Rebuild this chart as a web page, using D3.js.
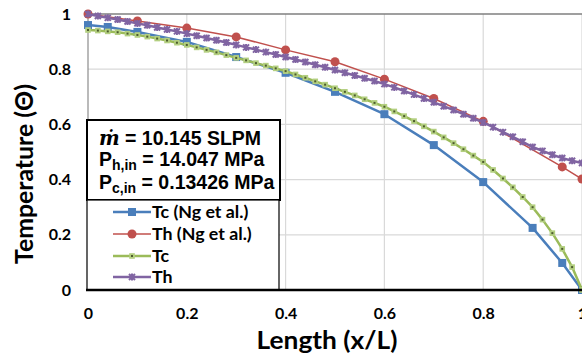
<!DOCTYPE html>
<html>
<head>
<meta charset="utf-8">
<script src="https://cdn.jsdelivr.net/npm/d3@7"></script>
<style>
  body { margin: 0; background: #fff; }
  svg { display: block; }
</style>
</head>
<body>
<svg></svg>
<script>
"use strict";

// Data
const ngTcX = [0, 0.04, 0.1, 0.2, 0.3, 0.4, 0.5, 0.6, 0.7, 0.8, 0.9, 0.96, 1.0];
const ngTcY = [0.96, 0.953, 0.935, 0.899, 0.844, 0.787, 0.718, 0.637, 0.525, 0.391, 0.225, 0.098, 0];

const ngThX = [0, 0.1, 0.2, 0.3, 0.4, 0.5, 0.6, 0.7, 0.8, 0.96, 1.0];
const ngThY = [1.0, 0.975, 0.949, 0.917, 0.870, 0.827, 0.764, 0.694, 0.611, 0.446, 0.402];

const modelX = d3.range(51).map(i => i / 50);
const modelTc = [
  0.942, 0.940, 0.937, 0.934, 0.929, 0.924, 0.918, 0.911, 0.904, 0.896,
  0.888, 0.879, 0.870, 0.861, 0.851, 0.841, 0.832, 0.822, 0.813, 0.803,
  0.793, 0.781, 0.769, 0.756, 0.744, 0.731, 0.718, 0.705, 0.691, 0.678,
  0.664, 0.647, 0.630, 0.612, 0.593, 0.574, 0.553, 0.532, 0.510, 0.487,
  0.464, 0.435, 0.404, 0.372, 0.337, 0.300, 0.255, 0.206, 0.149, 0.083,
  0.000
];
const modelTh = [
  1.000, 0.993, 0.986, 0.980, 0.973, 0.966, 0.959, 0.951, 0.944, 0.937,
  0.929, 0.921, 0.913, 0.905, 0.897, 0.888, 0.879, 0.871, 0.862, 0.853,
  0.844, 0.835, 0.826, 0.816, 0.807, 0.797, 0.787, 0.777, 0.767, 0.757,
  0.746, 0.734, 0.721, 0.708, 0.694, 0.680, 0.666, 0.652, 0.637, 0.622,
  0.607, 0.590, 0.572, 0.555, 0.537, 0.518, 0.504, 0.490, 0.478, 0.468,
  0.460
];

const xTicks = [0, 0.2, 0.4, 0.6, 0.8, 1];
const yTicks = [0, 0.2, 0.4, 0.6, 0.8, 1];
const legendLabels = ["Tc (Ng et al.)", "Th (Ng et al.)", "Tc", "Th"];

// Sizes
const W = 582, H = 356;
const margin = { l: 88, r: 0, t: 14, b: 66 };
const width = W - margin.l - margin.r;
const height = H - margin.t - margin.b;
const font = "Lato, 'Open Sans', sans-serif";

const svg = d3.select("svg")
  .attr("width", W)
  .attr("height", H);

const g = svg.append("g")
  .attr("transform", `translate(${margin.l}, ${margin.t})`);

// Scales
const x = d3.scaleLinear().domain([0, 1]).range([0, width]);
const y = d3.scaleLinear().domain([0, 1]).range([height, 0]);

// Grid
g.append("g")
  .selectAll("line")
  .data(xTicks.slice(1))
  .join("line")
    .attr("x1", d => x(d)).attr("x2", d => x(d))
    .attr("y1", 0).attr("y2", height)
    .attr("stroke", "#d9d9d9").attr("stroke-width", 1.2);

g.append("g")
  .selectAll("line")
  .data(yTicks.slice(1, -1))
  .join("line")
    .attr("x1", 0).attr("x2", width)
    .attr("y1", d => y(d)).attr("y2", d => y(d))
    .attr("stroke", "#d9d9d9").attr("stroke-width", 1.2);

// top frame line and left axis line
g.append("line")
  .attr("x1", 0).attr("x2", width)
  .attr("y1", y(1)).attr("y2", y(1))
  .attr("stroke", "#7f7f7f").attr("stroke-width", 1.5);
g.append("line")
  .attr("x1", 0).attr("x2", 0)
  .attr("y1", 0).attr("y2", height)
  .attr("stroke", "#8c8c8c").attr("stroke-width", 1.2);

// Axes
const fmt = d => d === 0 || d === 1 ? d3.format("d")(d) : d3.format(".1f")(d);

const xAxis = g.append("g")
  .attr("transform", `translate(0, ${height})`)
  .call(d3.axisBottom(x).tickValues(xTicks).tickSize(0).tickPadding(18).tickFormat(fmt));
xAxis.select(".domain").remove();

const yAxis = g.append("g")
  .call(d3.axisLeft(y).tickValues(yTicks).tickSize(0).tickPadding(17).tickFormat(fmt));
yAxis.select(".domain").remove();

svg.selectAll(".tick text")
  .attr("font-family", font)
  .attr("font-weight", "bold")
  .attr("font-size", 16)
  .attr("fill", "#000");

// Series
const series = [
  { xs: ngTcX, ys: ngTcY, color: "#4a7ebb", width: 2.5, marker: "square" },
  { xs: ngThX, ys: ngThY, color: "#c0504d", width: 1.5, marker: "circle" },
  { xs: modelX, ys: modelTc, color: "#9bbb59", width: 2.5, marker: "dot" },
  { xs: modelX, ys: modelTh, color: "#8064a2", width: 2.5, marker: "star" }
];

const line = d3.line()
  .x(d => x(d[0]))
  .y(d => y(d[1]));

function drawMarker(sel, type, color) {
  if (type === "square") {
    sel.append("rect")
      .attr("x", -4).attr("y", -4).attr("width", 8).attr("height", 8)
      .attr("fill", color);
  } else if (type === "circle") {
    sel.append("circle").attr("r", 4.5).attr("fill", color);
  } else if (type === "dot") {
    sel.append("rect")
      .attr("x", -2.8).attr("y", -2.8).attr("width", 5.6).attr("height", 5.6)
      .attr("fill", "#b3cf80");
    sel.append("rect")
      .attr("x", -1).attr("y", -1).attr("width", 2).attr("height", 2)
      .attr("fill", "#4b5a2c");
  } else if (type === "star") {
    sel.append("path")
      .attr("d", "M-3,-3L3,3M-3,3L3,-3M0,-3.5L0,3.5")
      .attr("stroke", color).attr("stroke-width", 2);
  }
}

series.forEach(s => {
  const pts = s.xs.map((v, i) => [v, s.ys[i]]);
  g.append("path")
    .attr("d", line(pts))
    .attr("fill", "none")
    .attr("stroke", s.color)
    .attr("stroke-width", s.width)
    .attr("stroke-linejoin", "round");
  g.append("g")
    .selectAll("g")
    .data(pts)
    .join("g")
      .attr("transform", d => `translate(${x(d[0])}, ${y(d[1])})`)
      .each(function () { drawMarker(d3.select(this), s.marker, s.color); });
});

// Text box with conditions
const box = svg.append("g");
box.append("rect")
  .attr("x", 87).attr("y", 120).attr("width", 193).attr("height", 80)
  .attr("fill", "#fff").attr("stroke", "#000").attr("stroke-width", 2);

const boxFont = "'Liberation Sans', Arial, sans-serif";
const t1 = box.append("text")
  .attr("x", 99).attr("y", 145)
  .attr("font-family", boxFont).attr("font-weight", "bold").attr("font-size", 19.5);
t1.append("tspan")
  .attr("font-family", "'DejaVu Serif', 'Liberation Serif', serif")
  .attr("font-style", "italic").text("ṁ");
t1.append("tspan").text(" = 10.145 SLPM");

const t2 = box.append("text")
  .attr("x", 99).attr("y", 166)
  .attr("font-family", boxFont).attr("font-weight", "bold").attr("font-size", 19.5);
t2.append("tspan").text("P");
t2.append("tspan").attr("font-size", 14).attr("dy", 4).text("h,in");
t2.append("tspan").attr("dy", -4).text(" = 14.047 MPa");

const t3 = box.append("text")
  .attr("x", 99).attr("y", 189)
  .attr("font-family", boxFont).attr("font-weight", "bold").attr("font-size", 19.5);
t3.append("tspan").text("P");
t3.append("tspan").attr("font-size", 14).attr("dy", 4).text("c,in");
t3.append("tspan").attr("dy", -4).text(" = 0.13426 MPa");

// Legend
const legend = svg.append("g");
legend.append("rect")
  .attr("x", 87).attr("y", 200).attr("width", 192).attr("height", 90)
  .attr("fill", "#fff").attr("stroke", "#000").attr("stroke-width", 1.2);

const legendY = [212, 234, 256, 277];
series.forEach((s, i) => {
  const row = legend.append("g").attr("transform", `translate(0, ${legendY[i]})`);
  row.append("line")
    .attr("x1", 113).attr("x2", 151)
    .attr("stroke", s.color).attr("stroke-width", s.width);
  drawMarker(row.append("g").attr("transform", "translate(132, 0)"), s.marker, s.color);
  row.append("text")
    .attr("x", 152).attr("y", 6)
    .attr("font-family", font).attr("font-weight", "bold").attr("font-size", 17.8)
    .text(legendLabels[i]);
});

// bottom axis line drawn over legend box
svg.append("line")
  .attr("x1", 86).attr("x2", W)
  .attr("y1", margin.t + height).attr("y2", margin.t + height)
  .attr("stroke", "#000").attr("stroke-width", 2.5);

// Axis titles
svg.append("text")
  .attr("x", 327).attr("y", 349)
  .attr("text-anchor", "middle")
  .attr("font-family", font).attr("font-weight", "bold").attr("font-size", 25)
  .attr("textLength", 141).attr("lengthAdjust", "spacingAndGlyphs")
  .text("Length (x/L)");

svg.append("text")
  .attr("transform", "translate(33, 174) rotate(-90)")
  .attr("text-anchor", "middle")
  .attr("font-family", font).attr("font-weight", "bold").attr("font-size", 24)
  .attr("textLength", 180).attr("lengthAdjust", "spacingAndGlyphs")
  .text("Temperature (Θ)");
</script>
</body>
</html>
